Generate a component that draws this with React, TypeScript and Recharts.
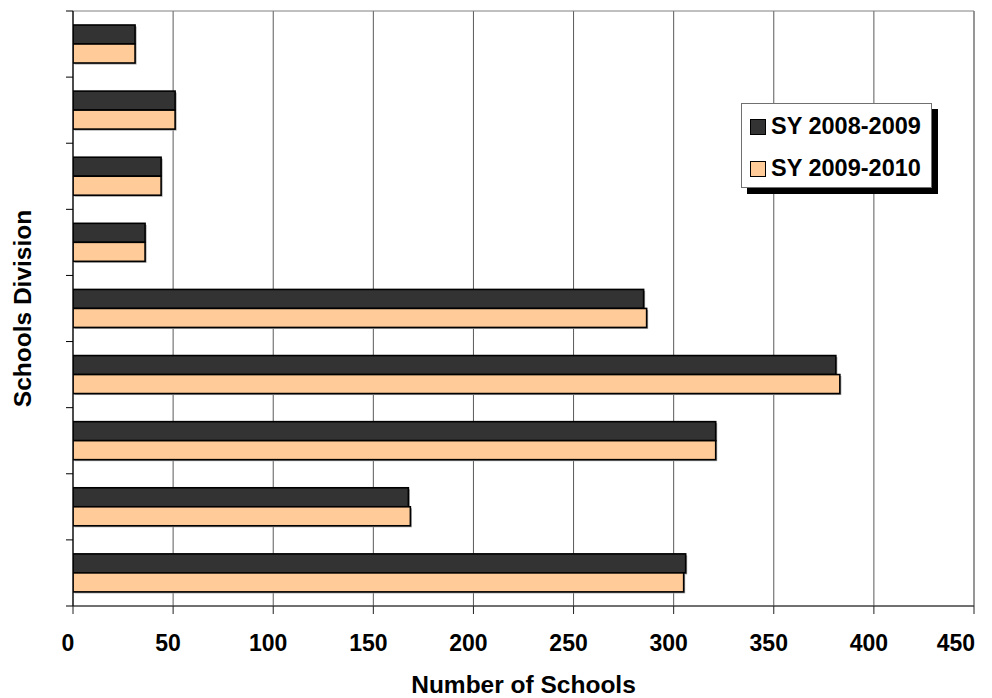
import React from 'react';
import { BarChart, Bar, XAxis, YAxis, CartesianGrid, Legend, ReferenceArea } from 'recharts';

const divisions = ['Division 1', 'Division 2', 'Division 3', 'Division 4', 'Division 5', 'Division 6', 'Division 7', 'Division 8', 'Division 9'];
const sy0809 = [31, 51, 44, 36, 285, 381, 321, 167.5, 306];
const sy0910 = [31, 51, 44, 36, 286.5, 383, 321, 168.5, 305];
const xTicks = [0, 50, 100, 150, 200, 250, 300, 350, 400, 450];
const seriesNames = ['SY 2008-2009', 'SY 2009-2010'];
const seriesColors = ['#333333', '#FFCC99'];

const data = divisions.map((d, i) => ({ division: d, a: sy0809[i], b: sy0910[i] }));

const FONT = '"Liberation Sans", Arial, sans-serif';

const ShadowBar = (props: any) => {
  const { x, y, width, height, fill } = props;
  if (width == null || height == null) return null;
  return (
    <g>
      <rect x={x + 1.5} y={y + 1.5} width={width} height={height} fill="#a0a0a0" />
      <rect x={x} y={y} width={width} height={height} fill={fill} stroke="#000" strokeWidth={1.6} />
    </g>
  );
};

const XTick = (props: any) => {
  const { x, y, payload, index, visibleTicksCount } = props;
  const last = index === (visibleTicksCount ?? xTicks.length) - 1;
  return (
    <text
      x={last ? x + 1 : x - 5}
      y={y}
      dy="0.71em"
      textAnchor={last ? 'end' : 'middle'}
      fontFamily={FONT}
      fontWeight="bold"
      fontSize={23}
      fill="#000"
    >
      {payload.value}
    </text>
  );
};

// category-boundary tick marks (Excel style): draw at the edges of each band
const YBoundaryTick = (props: any) => {
  const { x, y, payload, index, visibleTicksCount } = props;
  const half = payload && typeof payload.offset === 'number' && payload.offset > 0 ? payload.offset : 33;
  const last = index === (visibleTicksCount ?? divisions.length) - 1;
  return (
    <g>
      <line x1={x - 7} x2={x} y1={y - half} y2={y - half} stroke="#000" strokeWidth={1} />
      {last ? <line x1={x - 7} x2={x} y1={y + half} y2={y + half} stroke="#000" strokeWidth={1} /> : null}
    </g>
  );
};

const LegendBox = () => (
  <div
    style={{
      width: 191,
      height: 85,
      boxSizing: 'border-box',
      border: '1px solid #707070',
      background: '#fff',
      boxShadow: '6px 6px 0 #000',
      fontFamily: FONT,
      fontWeight: 'bold',
      fontSize: 23.5,
      color: '#000',
      paddingTop: 12,
      paddingLeft: 8,
    }}
  >
    {seriesNames.map((n, i) => (
      <div key={n} style={{ display: 'flex', alignItems: 'center', height: 21, marginBottom: i === 0 ? 21 : 0 }}>
        <span
          style={{
            display: 'inline-block',
            width: 14,
            height: 14,
            background: seriesColors[i],
            border: '1.5px solid #000',
            marginRight: 5,
            flexShrink: 0,
          }}
        />
        <span style={{ whiteSpace: 'nowrap', lineHeight: '21px' }}>{n}</span>
      </div>
    ))}
  </div>
);

export default function App() {
  return (
    <div style={{ position: 'absolute', left: 0, top: 0, background: '#fff' }}>
      <BarChart
        width={992}
        height={698}
        data={data}
        layout="vertical"
        margin={{ top: 11, right: 18, left: 0, bottom: 0 }}
        barSize={19}
        barGap={0}
      >
        <CartesianGrid horizontal={false} vertical={true} stroke="#5a5a5a" strokeWidth={1} />
        <ReferenceArea
          x1={0}
          x2={450}
          fill="none"
          stroke="#808080"
          strokeWidth={1}
          ifOverflow="visible"
        />
        <XAxis
          type="number"
          domain={[0, 450]}
          ticks={xTicks}
          allowDataOverflow
          interval={0}
          height={92}
          tickSize={8}
          tickMargin={21}
          stroke="#222"
          tick={<XTick />}
          label={{
            value: 'Number of Schools',
            position: 'insideBottom',
            offset: 5,
            style: { fontFamily: FONT, fontWeight: 'bold', fontSize: 24.5, fill: '#000' },
          }}
        />
        <YAxis
          type="category"
          dataKey="division"
          width={73}
          interval={0}
          tickLine={false}
          tickSize={0}
          tickMargin={0}
          tick={<YBoundaryTick />}
          stroke="#000"
          label={{
            value: 'Schools Division',
            angle: -90,
            position: 'insideLeft',
            offset: 22,
            style: { textAnchor: 'middle', fontFamily: FONT, fontWeight: 'bold', fontSize: 24.5, fill: '#000' },
          }}
        />
        <Legend
          layout="vertical"
          align="center"
          verticalAlign="middle"
          wrapperStyle={{ left: 741, top: 103, width: 191, height: 85 }}
          content={<LegendBox />}
        />
        <Bar dataKey="a" name={seriesNames[0]} fill={seriesColors[0]} shape={<ShadowBar />} isAnimationActive={false} />
        <Bar dataKey="b" name={seriesNames[1]} fill={seriesColors[1]} shape={<ShadowBar />} isAnimationActive={false} />
      </BarChart>
    </div>
  );
}
